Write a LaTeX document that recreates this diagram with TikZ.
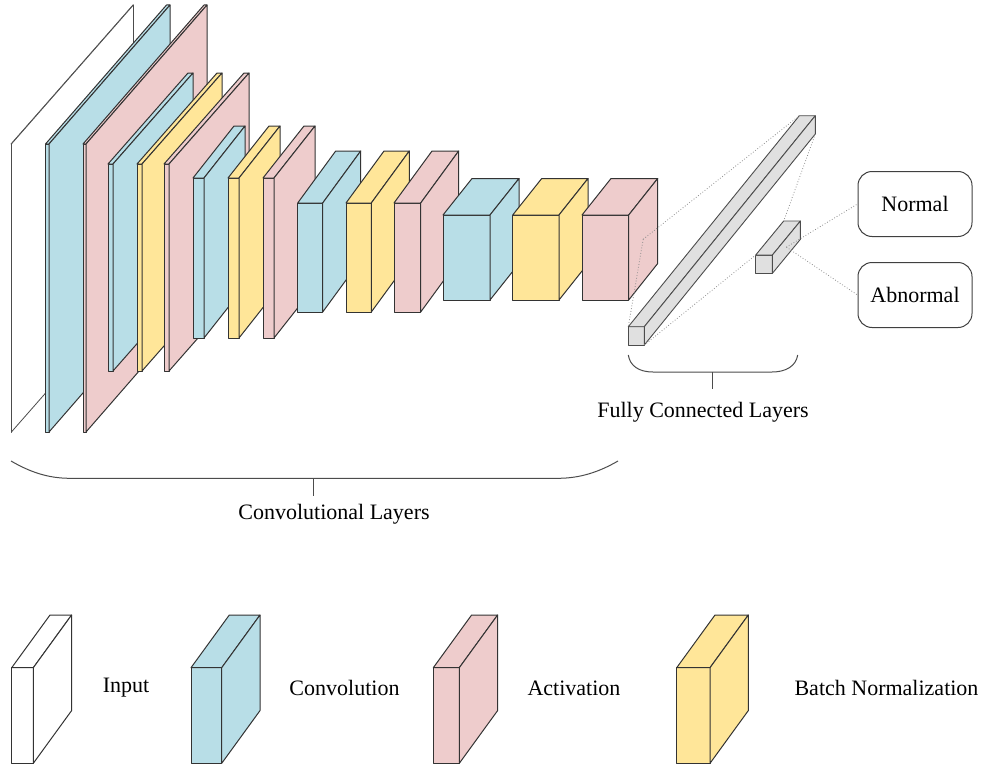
\documentclass[tikz,border=0pt]{standalone}
\usepackage{fontspec}
\setmainfont{Liberation Serif}
\usetikzlibrary{calc}

\definecolor{convblue}{HTML}{B8DEE7}
\definecolor{actpink}{HTML}{EECCCC}
\definecolor{bnyellow}{HTML}{FFE699}
\definecolor{fcgray}{HTML}{E0E0E0}

% One layer drawn as a cuboid seen from the front-left:
% #1 name, #2 fill, #3 left, #4 top, #5 width, #6 height, #7 depth x, #8 depth y
\newcommand{\layerblock}[8]{%
  \coordinate (#1-ftl) at (#3,#4);
  \coordinate (#1-ftr) at ({#3+#5},#4);
  \coordinate (#1-fbr) at ({#3+#5},{#4+#6});
  \coordinate (#1-fbl) at (#3,{#4+#6});
  \coordinate (#1-btl) at ({#3+#7},{#4-#8});
  \coordinate (#1-btr) at ({#3+#5+#7},{#4-#8});
  \coordinate (#1-bbr) at ({#3+#5+#7},{#4+#6-#8});
  \coordinate (#1-side) at ({#3+#5+#7/2},{#4+#6/2-#8/2});
  \filldraw[blockedge, fill=#2] (#1-ftl) rectangle (#1-fbr);
  \filldraw[blockedge, fill=#2] (#1-ftl) -- (#1-btl) -- (#1-btr) -- (#1-ftr) -- cycle;
  \filldraw[blockedge, fill=#2] (#1-ftr) -- (#1-btr) -- (#1-bbr) -- (#1-fbr) -- cycle;
}

\begin{document}
\begin{tikzpicture}[x=1pt, y=-1pt,
  blockedge/.style={draw=black!80, line width=1pt, line join=round},
  fcedge/.style={draw=black!70, line width=0.9pt, line join=round},
  fcline/.style={draw=black!45, dotted, line width=0.8pt},
  brace/.style={draw=black!70, line width=1pt},
  outbox/.style={draw=black!75, line width=1pt, rounded corners=14pt,
    minimum width=114pt, minimum height=65pt},
  lbl/.style={font=\fontsize{22}{26}\selectfont, inner sep=0pt}]

\useasboundingbox (0,0) rectangle (982,768);

% convolutional stack, drawn from back (left) to front (right)
\begin{scope}[blockedge/.style={draw=black!70, line width=0.8pt, line join=round}]
\layerblock{in}{white}{11}{144}{0.4}{288}{122}{139}
\end{scope}
\layerblock{c1}{convblue}{45.5}{144}{3.5}{288}{121}{139}
\layerblock{a1}{actpink}{83}{144}{3}{288}{121}{139}

\layerblock{c2}{convblue}{108}{164}{5}{207}{80}{91}
\layerblock{b2}{bnyellow}{137}{164}{5}{207}{80}{91}
\layerblock{a2}{actpink}{164}{164}{5}{207}{80}{91}

\layerblock{c3}{convblue}{193}{178}{11}{160}{41}{52}
\layerblock{b3}{bnyellow}{228}{178}{11}{160}{41}{52}
\layerblock{a3}{actpink}{263}{178}{11}{160}{41}{52}

\layerblock{c4}{convblue}{297.7}{203}{25}{109}{38}{52}
\layerblock{b4}{bnyellow}{346}{203}{25.3}{109}{38}{52}
\layerblock{a4}{actpink}{394}{203}{26.7}{109}{38}{52}

\layerblock{c5}{convblue}{443}{215}{47}{85}{29}{36.5}
\layerblock{b5}{bnyellow}{512.7}{215}{46.3}{85}{29}{36.5}
\layerblock{a5}{actpink}{582}{215}{46.7}{85}{29}{36.5}

% fully connected layers
\begin{scope}[blockedge/.style={fcedge}]
\layerblock{fc1}{fcgray}{628.3}{326.7}{16}{18.3}{171}{211}
\layerblock{fc2}{fcgray}{755.7}{255}{16.7}{18.3}{28}{34}
\end{scope}

% output classes
\node[outbox, lbl] (normal) at (915,204) {Normal};
\node[outbox, lbl] (abnormal) at (915,295) {Abnormal};

% projection lines between the last stages
\draw[fcline] (a5-side) -- (fc1-btl);
\draw[fcline] (a5-side) -- (fc1-ftl);
\draw[fcline] (fc1-fbr) -- (fc2-ftl);
\draw[fcline] (fc1-bbr) -- (fc2-btl);
\draw[fcline] (fc2-side) -- (normal.west);
\draw[fcline] (fc2-side) -- (abnormal.west);

% brace under the convolutional layers
\coordinate (cbL) at (11,461);
\coordinate (cbR) at (618,461);
\coordinate (cbM) at (313.5,478.3);
\coordinate (cbT) at (313.5,496);
\draw[brace] (cbL) .. controls (30,472) and (48,478.3) .. (70,478.3)
  -- (558,478.3) .. controls (580,478.3) and (599,472) .. (cbR);
\draw[brace] (cbM) -- (cbT);
\node[lbl] (convlbl) at (334,514) {Convolutional Layers};

% brace under the fully connected layers
\coordinate (fbL) at (628.3,355);
\coordinate (fbR) at (797.7,355);
\coordinate (fbM) at (712,372);
\coordinate (fbT) at (712,389);
\draw[brace] (fbL) .. controls (630,366) and (639,372) .. (653,372)
  -- (772,372) .. controls (786,372) and (796,366) .. (fbR);
\draw[brace] (fbM) -- (fbT);
\node[lbl] (fclbl) at (703,412) {Fully Connected Layers};

% legend
\layerblock{kin}{white}{11.7}{667.7}{21.6}{95.6}{38.3}{52.7}
\layerblock{kconv}{convblue}{191}{667.7}{30.7}{95.6}{38.3}{52.7}
\layerblock{kact}{actpink}{433.3}{667.7}{26}{95.6}{38.3}{52.7}
\layerblock{kbn}{bnyellow}{676.7}{667.7}{33.3}{95.6}{38.3}{52.7}
\node[lbl] (tin) at (126,688) {Input};
\node[lbl] (tconv) at (344.5,688) {Convolution};
\node[lbl] (tact) at (574,688) {Activation};
\node[lbl] (tbn) at (886.5,688) {Batch Normalization};
\end{tikzpicture}
\end{document}
